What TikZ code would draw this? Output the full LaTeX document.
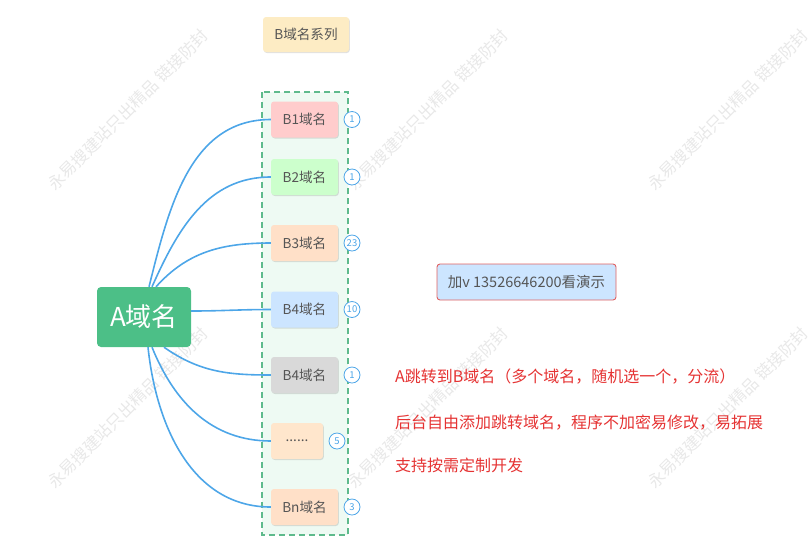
\documentclass[tikz,border=0pt]{standalone}
\usepackage{fontspec}
\setmainfont{Noto Sans CJK SC}
\usetikzlibrary{shadows}

\definecolor{linkblue}{RGB}{77,166,232}
\definecolor{framegreen}{RGB}{94,186,140}
\definecolor{framefill}{RGB}{238,250,243}
\definecolor{rootgreen}{RGB}{76,191,135}
\definecolor{textgray}{RGB}{85,85,85}
\definecolor{notered}{RGB}{229,51,51}
\definecolor{markgray}{RGB}{232,232,232}

\tikzset{
  bnode/.style={rounded corners=3pt, minimum width=67pt, minimum height=36pt, inner sep=0pt,
    text=textgray, font=\fontsize{13.6}{13.6}\selectfont,
    drop shadow={shadow xshift=0.8pt, shadow yshift=-1pt, fill=black, opacity=0.12}},
  count/.style={circle, draw=linkblue, fill=white, line width=0.8pt, minimum size=16pt, inner sep=0pt,
    text=linkblue, font=\fontsize{9.5}{9.5}\selectfont},
  link/.style={draw=linkblue, line width=1.6pt},
  notetext/.style={anchor=west, inner sep=0pt, text=notered, font=\fontsize{16}{16}\selectfont},
  wmark/.style={rotate=45, text=markgray, font=\fontsize{16.5}{16.5}\selectfont}
}

\begin{document}
\begin{tikzpicture}[x=1pt,y=1pt,yscale=-1]
\useasboundingbox (0,0) rectangle (808,558);

% watermarks
\foreach \wx in {128,428,728}{
  \foreach \wy in {110,408}{
    \node[wmark] (wm-\wx-\wy) at (\wx,\wy) {永易搜建站只出精品 链接防封};
  }
}

% Dashed frame
\draw[framegreen, fill=framefill, line width=1.5pt, dash pattern=on 6pt off 4pt] (262,92) rectangle (348,535);

% Top label
\node[bnode, fill={rgb,255:red,253;green,236;blue,196}, minimum width=86pt, minimum height=35pt] (series) at (306,34.5) {B域名系列};

% Root node
\node[rounded corners=4pt, fill=rootgreen, text=white, minimum width=94pt, minimum height=60pt, inner sep=0pt,
  font=\fontsize{26}{26}\selectfont] (A) at (144,317) {A域名};

% B nodes
\node[bnode, fill={rgb,255:red,255;green,204;blue,204}] (b1) at (304.5,119.5) {B1域名};
\node[bnode, fill={rgb,255:red,204;green,255;blue,204}] (b2) at (304.5,177) {B2域名};
\node[bnode, fill={rgb,255:red,255;green,224;blue,200}] (b3) at (304.5,243) {B3域名};
\node[bnode, fill={rgb,255:red,204;green,229;blue,255}] (b4) at (304.5,309.5) {B4域名};
\node[bnode, fill={rgb,255:red,217;green,217;blue,217}] (b5) at (304.5,375) {B4域名};
\node[bnode, fill={rgb,255:red,255;green,230;blue,204}, minimum width=52pt] (b6) at (297,441) {......};
\node[bnode, fill={rgb,255:red,255;green,224;blue,200}] (bn) at (304.5,507) {Bn域名};

% counts
\node[count] (c1) at (352,119.5) {1};
\node[count] (c2) at (352,177) {1};
\node[count] (c3) at (352,243) {23};
\node[count] (c4) at (352,309.5) {10};
\node[count] (c5) at (352,375) {1};
\node[count] (c6) at (337,441) {5};
\node[count] (c7) at (352,507) {3};

% links
\draw[link] ([xshift=5pt]A.north) to[out=-76,in=180] (b1.west);
\draw[link] ([xshift=8pt]A.north) to[out=-66,in=180] (b2.west);
\draw[link] ([xshift=12pt]A.north) to[out=-48,in=180] (b3.west);
\draw[link] ([yshift=-6pt]A.east) to[out=0,in=180] (b4.west);
\draw[link] ([xshift=20pt]A.south) to[out=35,in=180] (b5.west);
\draw[link] ([xshift=8pt]A.south) to[out=68,in=180] (b6.west);
\draw[link] ([xshift=4pt]A.south) to[out=84,in=180] (bn.west);

% demo box
\node[rounded corners=3pt, draw={rgb,255:red,224;green,96;blue,96}, line width=0.9pt,
  fill={rgb,255:red,204;green,229;blue,255}, minimum width=179pt, minimum height=36pt, inner sep=0pt,
  text=textgray, font=\fontsize{14.5}{14.5}\selectfont] (demo) at (526.5,282) {加v 13526646200看演示};

% notes
\node[notetext] (note1) at (395,376) {A跳转到B域名（多个域名，随机选一个，分流）};
\node[notetext] (note2) at (395,423) {后台自由添加跳转域名，程序不加密易修改，易拓展};
\node[notetext] (note3) at (395,465) {支持按需定制开发};

\end{tikzpicture}
\end{document}
